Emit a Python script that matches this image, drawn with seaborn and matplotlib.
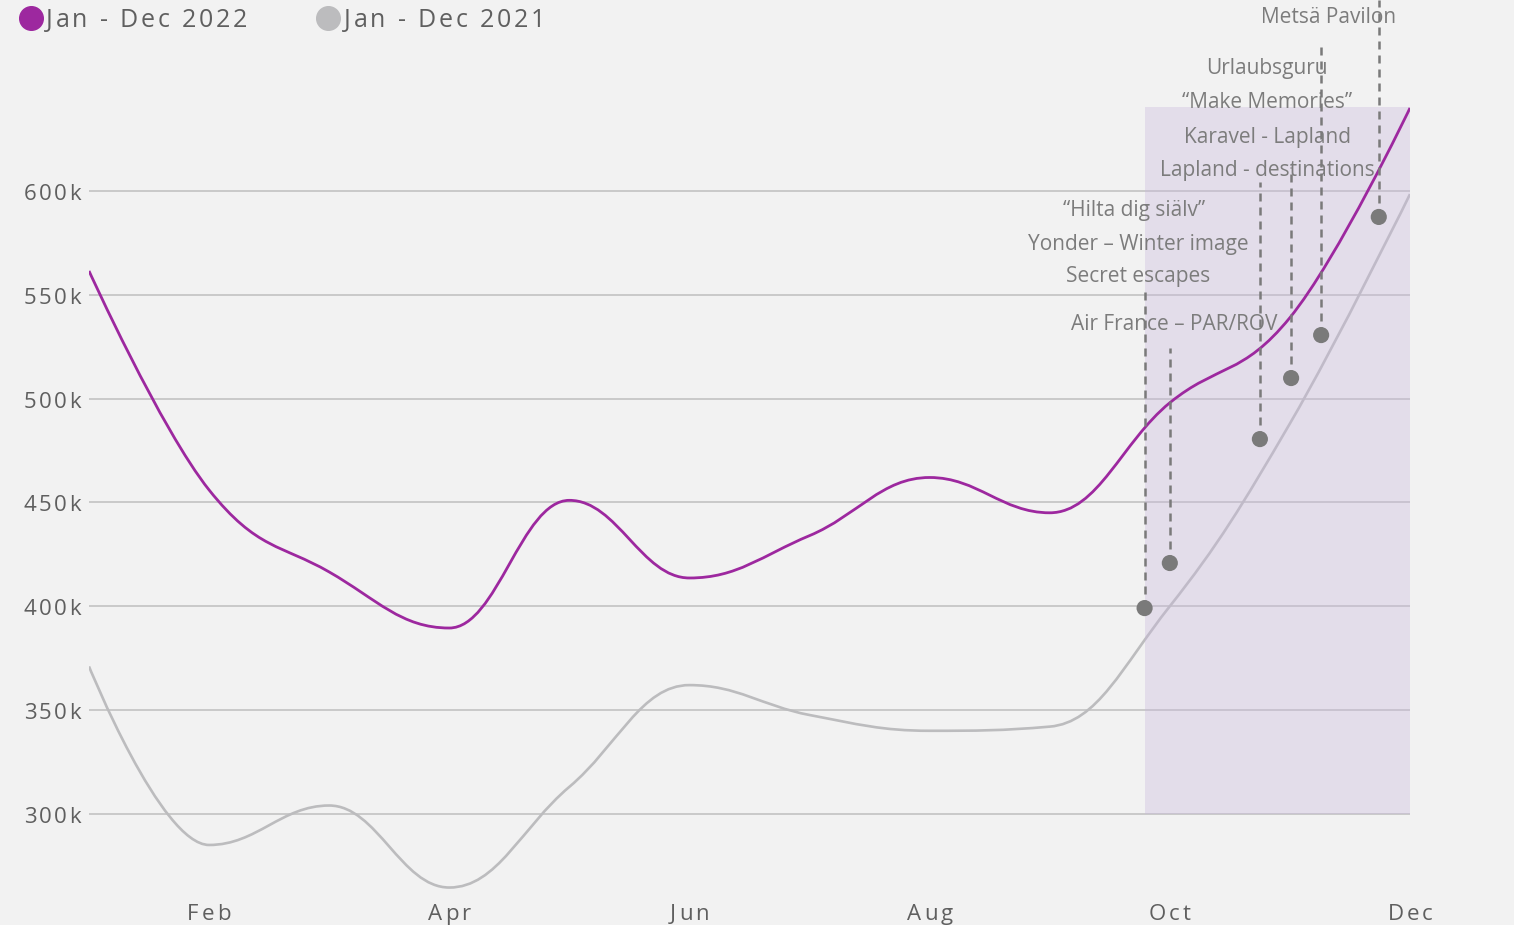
import matplotlib
matplotlib.use("Agg")
import matplotlib.pyplot as plt
import seaborn as sns
from matplotlib.path import Path
from matplotlib.patches import PathPatch, Rectangle
from matplotlib.lines import Line2D
from matplotlib.font_manager import FontProperties
from matplotlib.transforms import offset_copy

# monthly visits, in thousands
months = ["Jan", "Feb", "Mar", "Apr", "May", "Jun",
          "Jul", "Aug", "Sep", "Oct", "Nov", "Dec"]
visits_2022 = [561.5, 456, 416.5, 389.5, 451, 413.6, 434, 462, 445, 498, 539, 640]
visits_2021 = [371, 285, 304, 264.5, 313, 362, 347.6, 340, 342, 400, 488, 598.5]

# campaign markers (month position, value in thousands)
campaign_x = [8.79, 9.00, 9.75, 10.01, 10.26, 10.74]
campaign_y = [399.1, 420.8, 480.5, 509.9, 530.6, 587.5]
campaign_top = [552, 524.5, 604.3, 611.6, 671.8, 692]

# campaign names
label_text = ["Metsä Pavilon", "Urlaubsguru", "\u201cMake Memories\u201d",
              "Karavel - Lapland", "Lapland - destinations",
              "\u201cHilta dig siälv\u201d", "Yonder \u2013 Winter image",
              "Secret escapes", "Air France \u2013 PAR/ROV"]
label_x = [10.32, 9.81, 9.81, 9.81, 9.81, 8.70, 8.74, 8.74, 9.04]
label_y = [683.8, 659.2, 642.4, 626.0, 610.1, 590.4, 574.0, 558.6, 535.5]

# campaign period
period_start, period_end = 8.79, 11
period_low, period_high = 300, 640.5

x_ticks = [1, 3, 5, 7, 9, 11]
y_ticks = [300, 350, 400, 450, 500, 550, 600]

PURPLE = "#9d289f"
GREY = "#bcbcbe"
BG = "#f2f2f2"
TICK = "#5f5f5f"


def spline_path(x, y, smoothing=1.5):
    """Cubic bezier spline through the points, extremes kept flat."""
    n = len(x)
    d = smoothing + 1
    lc = [None] * n
    rc = [None] * n
    for i in range(n):
        if i == 0 or i == n - 1:
            lc[i] = rc[i] = (x[i], y[i])
            continue
        lx = (smoothing * x[i] + x[i - 1]) / d
        ly = (smoothing * y[i] + y[i - 1]) / d
        rx = (smoothing * x[i] + x[i + 1]) / d
        ry = (smoothing * y[i] + y[i + 1]) / d
        corr = (ry - ly) * (rx - x[i]) / (rx - lx) + y[i] - ry
        ly += corr
        ry += corr
        if ly > y[i - 1] and ly > y[i]:
            ly = max(y[i - 1], y[i]); ry = 2 * y[i] - ly
        elif ly < y[i - 1] and ly < y[i]:
            ly = min(y[i - 1], y[i]); ry = 2 * y[i] - ly
        if ry > y[i + 1] and ry > y[i]:
            ry = max(y[i + 1], y[i]); ly = 2 * y[i] - ry
        elif ry < y[i + 1] and ry < y[i]:
            ry = min(y[i + 1], y[i]); ly = 2 * y[i] - ry
        lc[i] = (lx, ly)
        rc[i] = (rx, ry)
    verts = [(x[0], y[0])]
    codes = [Path.MOVETO]
    for i in range(1, n):
        verts += [rc[i - 1], lc[i], (x[i], y[i])]
        codes += [Path.CURVE4] * 3
    return Path(verts, codes)


sns.set_theme(style="whitegrid", rc={"axes.facecolor": BG, "figure.facecolor": BG})
plt.rcParams["font.family"] = ["Open Sans", "DejaVu Sans"]

fig = plt.figure(figsize=(15.14, 9.25), dpi=100)
ax = fig.add_axes([89 / 1514, 30 / 925, 1321 / 1514, 895 / 925])
renderer = fig.canvas.get_renderer()


def text_width(s, size):
    prop = FontProperties(family=["Open Sans", "DejaVu Sans"], size=size)
    return renderer.get_text_width_height_descent(s, prop, ismath=False)[0]


def spaced_text(x, y, s, transform, size, spacing, ha="left", dx=0, dy=0, **kw):
    """Letter-spaced text; spacing, dx and dy in pixels, aligned on the baseline."""
    base = text_width("||", size)
    adv = [text_width("|" + ch + "|", size) - base for ch in s]
    total = sum(adv) + spacing * (len(s) - 1)
    pos = dx + {"left": 0, "center": -total / 2, "right": -total}[ha]
    for ch, a in zip(s, adv):
        if ch != " ":
            tr = offset_copy(transform, fig=fig, x=pos, y=dy, units="dots")
            fig.text(x, y, ch, transform=tr, ha="left", va="baseline",
                     fontsize=size, **kw)
        pos += a + spacing


xs = list(range(len(months)))
ax.add_patch(PathPatch(spline_path(xs, visits_2021), facecolor="none",
                       edgecolor=GREY, lw=1.9, zorder=1.2))
ax.add_patch(Rectangle((period_start, period_low), period_end - period_start,
                       period_high - period_low, facecolor="#c8b8dc", alpha=0.35,
                       lw=0, zorder=1.5))
ax.add_patch(PathPatch(spline_path(xs, visits_2022), facecolor="none",
                       edgecolor=PURPLE, lw=2.0, zorder=3))

for cx, cy, ct in zip(campaign_x, campaign_y, campaign_top):
    ax.plot([cx, cx], [cy, ct], color="#7a7a7a", lw=1.8, ls=(0, (3.2, 2.4)),
            zorder=4, clip_on=False)
sns.scatterplot(x=campaign_x, y=campaign_y, ax=ax, color="#7a7a7a", s=135,
                edgecolor="none", zorder=5, clip_on=False)

for txt, tx, ty in zip(label_text, label_x, label_y):
    ax.text(tx, ty, txt, ha="center", va="center", fontsize=15,
            color="#7c7c7c", zorder=4.5)

ax.set_xlim(0, 11)
ax.set_ylim(260.9, 692)
ax.set_xticks(x_ticks)
ax.set_yticks(y_ticks)
ax.tick_params(axis="both", length=0, labelbottom=False, labelleft=False)
ax.grid(axis="x", visible=False)
ax.grid(axis="y", color="#c9c9c9", lw=1.4)
ax.set_axisbelow(True)
for sp in ax.spines.values():
    sp.set_visible(False)

# letter-spaced tick labels
for t in x_ticks:
    spaced_text(t, 0, months[t], ax.get_xaxis_transform(), 16, 3,
                ha="center", dy=-25, color=TICK)
for v in y_ticks:
    spaced_text(0, v, f"{v}k", ax.get_yaxis_transform(), 16, 2.5,
                ha="right", dx=-8, dy=-9, color=TICK)

# legend at top left
for lx, tx, col, lab in [(31, 46, PURPLE, "Jan - Dec 2022"),
                         (328, 344, GREY, "Jan - Dec 2021")]:
    fig.add_artist(Line2D([lx / 1514], [1 - 18 / 925], marker="o", ms=17,
                          color=col, lw=0, transform=fig.transFigure))
    spaced_text(tx / 1514, 1 - 27 / 925, lab, fig.transFigure, 18, 2.8,
                color="#5f5f5f")

fig.savefig("out.png", dpi=100, facecolor=BG)
